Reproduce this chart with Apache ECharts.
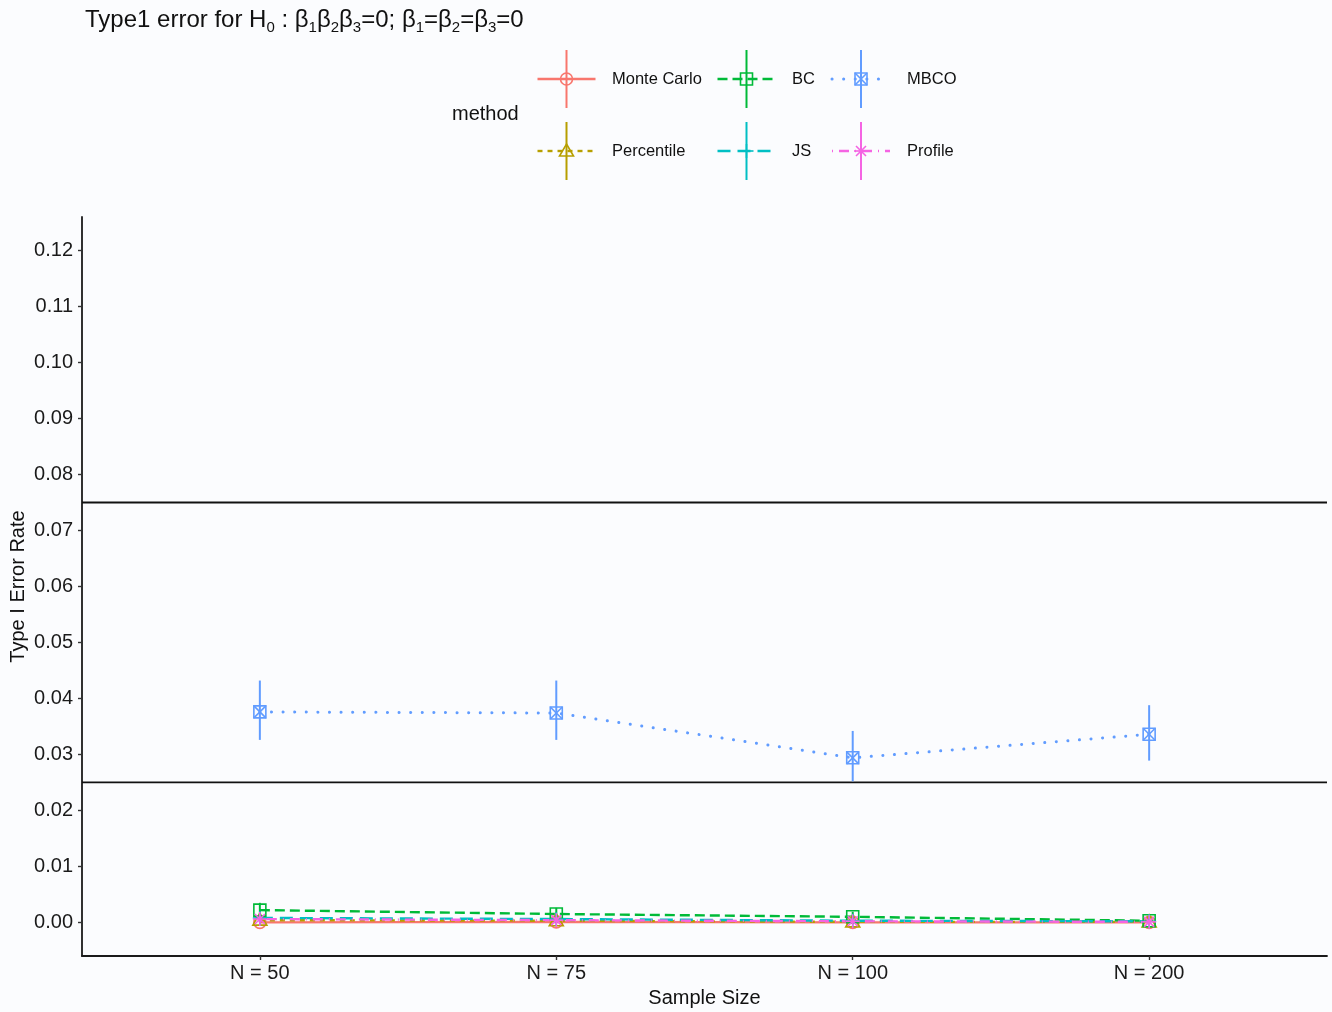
<!DOCTYPE html>
<html><head><meta charset="utf-8">
<script src="https://cdn.jsdelivr.net/npm/echarts@6/dist/echarts.min.js"></script>
<style>html,body{margin:0;padding:0;background:#FBFCFE;}#c{width:1332px;height:1012px;}</style>
</head><body><div id="c"></div>
<script>
// ---- data ----
const categories = ['N = 50', 'N = 75', 'N = 100', 'N = 200'];
const methods = ['Monte Carlo', 'Percentile', 'BC', 'JS', 'MBCO', 'Profile'];
const yTicks = [0, 0.01, 0.02, 0.03, 0.04, 0.05, 0.06, 0.07, 0.08, 0.09, 0.10, 0.11, 0.12];
const refLines = [0.025, 0.075];

const monteCarlo      = [0.0000, 0.0001, 0.0000, 0.0000];
const monteCarloLower = [0.0000, 0.0000, 0.0000, 0.0000];
const monteCarloUpper = [0.0000, 0.0004, 0.0000, 0.0000];

const percentile      = [0.0004, 0.0003, 0.0001, 0.0001];
const percentileLower = [0.0000, 0.0000, 0.0000, 0.0000];
const percentileUpper = [0.0010, 0.0008, 0.0004, 0.0004];

const bc      = [0.0022, 0.0015, 0.0010, 0.0003];
const bcLower = [0.0009, 0.0004, 0.0001, 0.0000];
const bcUpper = [0.0035, 0.0026, 0.0019, 0.0008];

const js      = [0.0008, 0.0006, 0.0003, 0.0002];
const jsLower = [0.0001, 0.0000, 0.0000, 0.0000];
const jsUpper = [0.0015, 0.0012, 0.0008, 0.0006];

const mbco      = [0.0376, 0.0374, 0.0294, 0.0336];
const mbcoLower = [0.0326, 0.0326, 0.0252, 0.0289];
const mbcoUpper = [0.0432, 0.0432, 0.0342, 0.0388];

const profile      = [0.0006, 0.0004, 0.0002, 0.0001];
const profileLower = [0.0000, 0.0000, 0.0000, 0.0000];
const profileUpper = [0.0012, 0.0009, 0.0006, 0.0004];

// ---- styles ----
const colors = ['#F8766D', '#B79F00', '#00BA38', '#00BFC4', '#619CFF', '#F564E3'];
const dashes = ['solid', [5, 5], [10, 5], [13, 7], [0.1, 11.5], [1, 6, 10, 6]];
const shapes = ['circle', 'triangle', 'square', 'plus', 'squarecross', 'asterisk'];
const values = [monteCarlo, percentile, bc, js, mbco, profile];
const lowers = [monteCarloLower, percentileLower, bcLower, jsLower, mbcoLower, profileLower];
const uppers = [monteCarloUpper, percentileUpper, bcUpper, jsUpper, mbcoUpper, profileUpper];

const FONT = '"Liberation Sans", Arial, sans-serif';

function markerShapes(shape, x, y, color) {
  const s = 6, st = { stroke: color, fill: 'none', lineWidth: 1.6 };
  const ln = (x1, y1, x2, y2) => ({ type: 'line', shape: { x1, y1, x2, y2 }, style: st });
  switch (shape) {
    case 'circle': return [{ type: 'circle', shape: { cx: x, cy: y, r: s }, style: st }];
    case 'triangle': return [{ type: 'polygon', shape: { points: [[x, y - 7], [x + 7, y + 5], [x - 7, y + 5]] }, style: st }];
    case 'square': return [{ type: 'rect', shape: { x: x - s, y: y - s, width: 2 * s, height: 2 * s }, style: st }];
    case 'plus': return [ln(x - 7, y, x + 7, y), ln(x, y - 7, x, y + 7)];
    case 'squarecross': return [{ type: 'rect', shape: { x: x - s, y: y - s, width: 2 * s, height: 2 * s }, style: st },
      ln(x - s, y - s, x + s, y + s), ln(x - s, y + s, x + s, y - s)];
    case 'asterisk': return [ln(x - 7, y, x + 7, y), ln(x, y - 7, x, y + 7), ln(x - 5, y - 5, x + 5, y + 5), ln(x - 5, y + 5, x + 5, y - 5)];
  }
  return [];
}

const series = [];
refLines.forEach(v => {
  series.push({
    type: 'line', data: [[0.4, v], [4.6, v]], showSymbol: false, symbol: 'none', silent: true,
    lineStyle: { color: '#111', width: 1.8, type: 'solid' }, z: 1, animation: false
  });
});
methods.forEach((m, i) => {
  const lineData = values[i].map((v, k) => [k + 1, v]);
  series.push({
    name: m, type: 'line', data: lineData, showSymbol: false, symbol: 'none', silent: true,
    lineStyle: { color: colors[i], width: i === 4 ? 3 : 2.4, type: dashes[i], cap: i === 4 ? 'round' : 'butt' },
    z: 2, animation: false
  });
});
methods.forEach((m, i) => {
  const data = values[i].map((v, k) => [k + 1, v, lowers[i][k], uppers[i][k]]);
  series.push({
    name: m + ' points', type: 'custom', data: data, z: 3, animation: false, silent: true,
    renderItem: function (params, api) {
      const p = api.coord([api.value(0), api.value(1)]);
      const lo = api.coord([api.value(0), api.value(2)]);
      const hi = api.coord([api.value(0), api.value(3)]);
      const children = [{ type: 'line', shape: { x1: p[0], y1: hi[1], x2: p[0], y2: lo[1] }, style: { stroke: colors[i], lineWidth: 2 } }];
      return { type: 'group', children: children.concat(markerShapes(shapes[i], p[0], p[1], colors[i])) };
    }
  });
});

// legend graphics
const keyX = [566.5, 746.5, 861];
const labX = [612, 792, 907];
const rowY = [79, 151];
const graphics = [{ type: 'text', left: 452, top: 104, style: { text: 'method', font: '20px ' + FONT, fill: '#111' } }];
methods.forEach((m, i) => {
  const col = Math.floor(i / 2), row = i % 2;
  const cx = keyX[col], cy = rowY[row];
  const d = dashes[i];
  const children = [
    { type: 'line', shape: { x1: cx - 29, y1: cy, x2: cx + 29, y2: cy },
      style: { stroke: colors[i], lineWidth: i === 4 ? 3 : 2.4, lineDash: d === 'solid' ? null : d, lineCap: i === 4 ? 'round' : 'butt' } },
    { type: 'line', shape: { x1: cx, y1: cy - 29, x2: cx, y2: cy + 29 }, style: { stroke: colors[i], lineWidth: 2 } }
  ].concat(markerShapes(shapes[i], cx, cy, colors[i]));
  graphics.push({ type: 'group', children: children });
  graphics.push({ type: 'text', x: labX[col], y: cy, style: { text: m, font: '16.5px ' + FONT, fill: '#111', textVerticalAlign: 'middle' } });
});

const chart = echarts.init(document.getElementById('c'), null, { renderer: 'canvas' });
chart.setOption({
  backgroundColor: '#FBFCFE',
  animation: false,
  title: {
    left: 80, top: 0,
    text: '{n|Type1 error for H}{s|0}{n| : β}{s|1}{n|β}{s|2}{n|β}{s|3}{n|=0; β}{s|1}{n|=β}{s|2}{n|=β}{s|3}{n|=0}',
    textStyle: {
      fontFamily: FONT, fontWeight: 'normal', color: '#111',
      rich: {
        n: { fontFamily: FONT, fontSize: 24, lineHeight: 30, color: '#111' },
        s: { fontFamily: FONT, fontSize: 15, lineHeight: 17, verticalAlign: 'bottom', color: '#111' }
      }
    }
  },
  grid: { left: 82, right: 5, top: 217, bottom: 56, containLabel: false, outerBoundsMode: 'none' },
  xAxis: {
    type: 'value', min: 0.4, max: 4.6,
    name: 'Sample Size', nameLocation: 'middle', nameGap: 32,
    nameTextStyle: { fontFamily: FONT, fontSize: 20, color: '#111' },
    axisLine: { show: true, onZero: false, lineStyle: { color: '#1a1a1a', width: 1.8 } },
    axisTick: { show: true, length: 4, customValues: [1, 2, 3, 4], lineStyle: { color: '#333', width: 1.4 } },
    axisLabel: { customValues: [1, 2, 3, 4], margin: 7, fontFamily: FONT, fontSize: 20, color: '#1a1a1a',
      formatter: v => categories[Math.round(v) - 1] },
    splitLine: { show: false }
  },
  yAxis: {
    type: 'value', min: -0.006, max: 0.126,
    name: 'Type I Error Rate', nameLocation: 'middle', nameGap: 54, nameRotate: 90, nameMoveOverlap: false,
    nameTextStyle: { fontFamily: FONT, fontSize: 20, color: '#111' },
    axisLine: { show: true, onZero: false, lineStyle: { color: '#1a1a1a', width: 1.8 } },
    axisTick: { show: true, length: 4, customValues: yTicks, lineStyle: { color: '#333', width: 1.4 } },
    axisLabel: { customValues: yTicks, margin: 9, fontFamily: FONT, fontSize: 20, color: '#1a1a1a',
      formatter: v => v.toFixed(2) },
    splitLine: { show: false }
  },
  graphic: graphics,
  series: series
});
</script></body></html>
